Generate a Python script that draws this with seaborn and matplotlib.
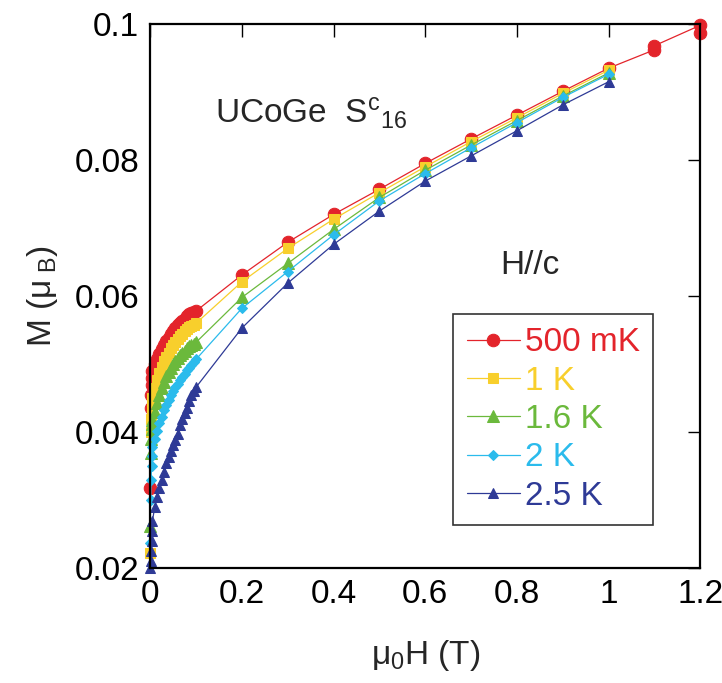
import numpy as np
import pandas as pd
import matplotlib
matplotlib.use("Agg")
import matplotlib.pyplot as plt
import seaborn as sns

sns.set_style("white")
plt.rcParams['font.family'] = ['Liberation Sans', 'DejaVu Sans']
plt.rcParams['mathtext.fontset'] = 'custom'
plt.rcParams['mathtext.rm'] = 'Liberation Sans'
plt.rcParams['mathtext.it'] = 'Liberation Sans'

# field values (T)
low_h = [0, 0.001, 0.002, 0.003, 0.004, 0.005, 0.01, 0.015, 0.02, 0.025, 0.03,
         0.035, 0.04, 0.045, 0.05, 0.055, 0.06, 0.065, 0.07, 0.075, 0.08,
         0.085, 0.09, 0.095, 0.1]
high_h = [0.2, 0.3, 0.4, 0.5, 0.6, 0.7, 0.8, 0.9, 1.0]

m_500mk_low = [0.0318, 0.0435, 0.0455, 0.0470, 0.0480, 0.0490, 0.0500, 0.0508,
               0.0515, 0.0522, 0.0528, 0.0534, 0.0539, 0.0544, 0.0549, 0.0553,
               0.0557, 0.0561, 0.0564, 0.0567, 0.0570, 0.0573, 0.0575, 0.0577, 0.0578]
m_500mk_high = [0.0631, 0.0679, 0.0720, 0.0757, 0.0795, 0.0831, 0.0866, 0.0901, 0.0935]
extra_h = [1.1, 1.1, 1.2, 1.2]
m_500mk_extra = [0.0962, 0.0968, 0.0998, 0.0987]

m_1k_low = [0.0222, 0.0400, 0.0420, 0.0435, 0.0443, 0.0450, 0.0465, 0.0477,
            0.0487, 0.0496, 0.0504, 0.0511, 0.0517, 0.0523, 0.0528, 0.0533,
            0.0537, 0.0541, 0.0545, 0.0548, 0.0551, 0.0554, 0.0556, 0.0558, 0.0560]
m_1k_high = [0.0621, 0.0670, 0.0713, 0.0752, 0.0790, 0.0827, 0.0862, 0.0898, 0.0932]

m_16k_low = [0.0262, 0.0370, 0.0390, 0.0405, 0.0412, 0.0418, 0.0430, 0.0443,
             0.0455, 0.0465, 0.0474, 0.0482, 0.0489, 0.0495, 0.0500, 0.0505,
             0.0509, 0.0513, 0.0517, 0.0520, 0.0523, 0.0526, 0.0528, 0.0530, 0.0532]
m_16k_high = [0.0598, 0.0648, 0.0698, 0.0745, 0.0785, 0.0822, 0.0858, 0.0894, 0.0928]

m_2k_low = [0.0237, 0.0300, 0.0330, 0.0350, 0.0365, 0.0378, 0.0390, 0.0402,
            0.0413, 0.0423, 0.0432, 0.0440, 0.0447, 0.0454, 0.0460, 0.0466,
            0.0471, 0.0476, 0.0481, 0.0486, 0.0491, 0.0495, 0.0499, 0.0503, 0.0507]
m_2k_high = [0.0582, 0.0636, 0.0690, 0.0740, 0.0780, 0.0818, 0.0855, 0.0892, 0.0926]

m_25k_low = [0.0200, 0.0210, 0.0225, 0.0240, 0.0255, 0.0270, 0.0290, 0.0305,
             0.0318, 0.0330, 0.0342, 0.0354, 0.0364, 0.0372, 0.0381, 0.0389,
             0.0398, 0.0410, 0.0420, 0.0428, 0.0436, 0.0446, 0.0454, 0.0460, 0.0466]
m_25k_high = [0.0553, 0.0619, 0.0676, 0.0725, 0.0769, 0.0806, 0.0843, 0.0881, 0.0915]

labels = ["500 mK", "1 K", "1.6 K", "2 K", "2.5 K"]
colors = ["#E3242B", "#F8CF2C", "#6BB93C", "#2BBBEC", "#2E3A96"]
markers = ["o", "s", "^", "D", "^"]
msizes = [9, 7, 8, 5.5, 7.5]

series = [
    (low_h + high_h + extra_h, m_500mk_low + m_500mk_high + m_500mk_extra),
    (low_h + high_h, m_1k_low + m_1k_high),
    (low_h + high_h, m_16k_low + m_16k_high),
    (low_h + high_h, m_2k_low + m_2k_high),
    (low_h + high_h, m_25k_low + m_25k_high),
]

FS = 24

fig = plt.figure(figsize=(7.22, 6.83), dpi=100)
ax = fig.add_axes([0.208, 0.168, 0.762, 0.797])

for (h, m), lab, c, mk, ms in zip(series, labels, colors, markers, msizes):
    df = pd.DataFrame({"H": h, "M": m})
    sns.lineplot(data=df, x="H", y="M", ax=ax, color=c, marker=mk,
                 markersize=ms, markeredgecolor=c, linewidth=0.9,
                 estimator=None, sort=False, label=lab, clip_on=False)

ax.set_xlim(0, 1.2)
ax.set_ylim(0.02, 0.1)
ax.set_xticks([0, 0.2, 0.4, 0.6, 0.8, 1, 1.2])
ax.set_xticklabels(["0", "0.2", "0.4", "0.6", "0.8", "1", "1.2"])
ax.set_yticks([0.02, 0.04, 0.06, 0.08, 0.1])
ax.set_yticklabels(["0.02", "0.04", "0.06", "0.08", "0.1"])
ax.tick_params(direction="in", top=True, right=True, length=9, width=1,
               labelsize=FS, pad=8, colors="black")
for s in ax.spines.values():
    s.set_color("black")
    s.set_linewidth(1.6)

ax.set_xlabel(r"$\mathregular{\mu_0}$H (T)", fontsize=FS, labelpad=20)
ax.set_ylabel(r"M ($\mathregular{\mu_{\ B}}$)", fontsize=FS, labelpad=10)

ax.text(0.118, 0.835, r"UCoGe  S$\mathregular{^c}$$\mathregular{_{16}}$",
        transform=ax.transAxes, fontsize=FS, ha="left", va="center")
ax.text(0.636, 0.557, "H//c", transform=ax.transAxes, fontsize=FS,
        ha="left", va="center")

leg = ax.legend(loc="upper left", bbox_to_anchor=(0.551, 0.467), fontsize=FS,
                labelcolor="linecolor", frameon=True, fancybox=False,
                edgecolor="black", handlelength=1.6, handletextpad=0.15,
                borderpad=0.4, labelspacing=0.22, borderaxespad=0)
leg.get_frame().set_linewidth(1.2)

fig.savefig("out.png", dpi=100)
